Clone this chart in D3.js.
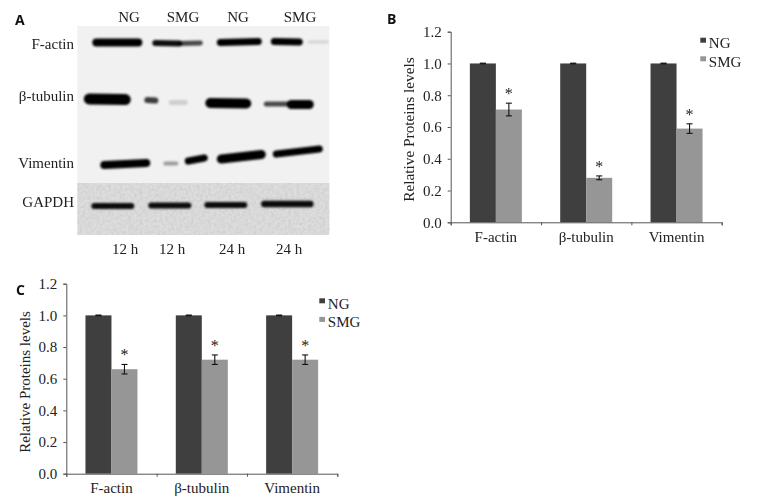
<!DOCTYPE html>
<html>
<head>
<meta charset="utf-8">
<script src="https://cdn.jsdelivr.net/npm/d3@7"></script>
<style>
  body { margin: 0; background: #fff; }
  text { font-family: "Liberation Serif", serif; fill: #222; }
  .letter { font-family: "Open Sans", sans-serif; font-weight: 700; font-size: 14px; fill: #111; }
</style>
</head>
<body>
<div id="figure"></div>
<script>
const proteins = ['F-actin', 'β-tubulin', 'Vimentin'];
const groups = ['NG', 'SMG'];
const yTicks = [0, 0.2, 0.4, 0.6, 0.8, 1.0, 1.2];

// panel B, 12 h
const ngB = [1, 1, 1];
const smgB = [0.71, 0.28, 0.59];
const ngErrB = [0.002, 0.002, 0.002];
const smgErrB = [0.04, 0.012, 0.03];

// panel C, 24 h
const ngC = [1, 1, 1];
const smgC = [0.66, 0.72, 0.72];
const ngErrC = [0.002, 0.002, 0.002];
const smgErrC = [0.03, 0.03, 0.03];

// blot bands: x0, x1, yLeft, yRight, thickness, density
const bandsActin = [
  [19, 61, 16.5, 16.5, 8, 1], [78, 102, 17, 17.5, 6, 0.95], [102, 123, 17.5, 17, 5, 0.7],
  [143, 181, 16.5, 15.5, 7, 1], [197, 222, 15.5, 16, 7, 1], [232, 250, 16, 16, 3, 0.12]
];
const bandsTubulin = [
  [12, 48, 73, 73.5, 11, 1], [70, 78, 74, 74.5, 6, 0.75], [94, 108, 76.5, 76.5, 5, 0.14],
  [133, 169, 77, 77.5, 10, 1], [189, 210, 78, 78, 5, 0.7], [214, 232, 78.5, 78.5, 9, 1]
];
const bandsVimentin = [
  [27, 69, 139, 137, 8, 1], [88, 99, 137.5, 137.5, 4, 0.35], [111, 127, 135, 132, 7, 1],
  [144, 184, 133, 128.5, 9, 1], [199, 242, 128, 123, 7, 1]
];
const bandsGapdh = [
  [17, 54, 180, 180, 6, 0.95], [74, 111, 179.5, 179.5, 6, 0.95],
  [130, 167, 179, 179, 6, 0.95], [187, 233, 178, 178, 6.5, 0.95]
];
const blotTop = ['NG', 'SMG', 'NG', 'SMG'];
const blotBottom = ['12 h', '12 h', '24 h', '24 h'];
const blotRows = ['F-actin', 'β-tubulin', 'Vimentin', 'GAPDH'];

const svg = d3.select('#figure').append('svg')
  .attr('width', 764)
  .attr('height', 502);

const defs = svg.append('defs');
defs.append('filter').attr('id', 'soft')
  .attr('filterUnits', 'userSpaceOnUse')
  .attr('x', 0).attr('y', 0).attr('width', 764).attr('height', 502)
  .append('feGaussianBlur').attr('stdDeviation', 1.2);

const grain = defs.append('filter').attr('id', 'grain')
  .attr('x', 0).attr('y', 0).attr('width', '100%').attr('height', '100%');
grain.append('feTurbulence').attr('type', 'fractalNoise').attr('baseFrequency', 0.35).attr('numOctaves', 2).attr('seed', 4);
grain.append('feColorMatrix').attr('type', 'matrix')
  .attr('values', '0 0 0 0 0  0 0 0 0 0  0 0 0 0 0  0.5 0 0 0 -0.17');

/**
 * drawBlot - the western blot of panel A, bands are blurred strokes on a grey film
 */
function drawBlot() {
  const gelX = d3.scaleLinear().domain([0, 252]).range([77.3, 329.3]);
  const gelY = d3.scaleLinear().domain([0, 209]).range([26, 235]);
  const split = 157;

  const gel = svg.append('g');
  gel.append('rect')
    .attr('x', gelX(0)).attr('y', gelY(0))
    .attr('width', gelX(252) - gelX(0)).attr('height', gelY(split) - gelY(0))
    .attr('fill', '#f1f1f1');
  gel.append('rect')
    .attr('x', gelX(0)).attr('y', gelY(split))
    .attr('width', gelX(252) - gelX(0)).attr('height', gelY(209) - gelY(split))
    .attr('fill', '#dddddd');
  gel.append('rect')
    .attr('x', gelX(0)).attr('y', gelY(split))
    .attr('width', gelX(252) - gelX(0)).attr('height', gelY(209) - gelY(split))
    .attr('fill', '#000')
    .attr('filter', 'url(#grain)')
    .attr('opacity', 0.25);

  const allBands = bandsActin.concat(bandsTubulin, bandsVimentin, bandsGapdh);
  gel.append('g')
    .attr('filter', 'url(#soft)')
    .selectAll('line.band')
    .data(allBands)
    .enter()
    .append('line')
    .classed('band', true)
    .attr('x1', d => gelX(d[0]))
    .attr('x2', d => gelX(d[1]))
    .attr('y1', d => gelY(d[2]))
    .attr('y2', d => gelY(d[3]))
    .attr('stroke', '#050505')
    .attr('stroke-linecap', 'round')
    .attr('stroke-width', d => d[4])
    .attr('opacity', d => d[5]);

  const topX = [129, 183, 238, 300];
  const bottomX = [125, 172, 232, 289];
  const rowY = [49, 101, 168, 207];

  svg.selectAll('text.lane-top').data(blotTop).enter().append('text')
    .classed('lane-top', true)
    .attr('x', (d, i) => topX[i]).attr('y', 22)
    .attr('text-anchor', 'middle').attr('font-size', 15).text(d => d);
  svg.selectAll('text.lane-bottom').data(blotBottom).enter().append('text')
    .classed('lane-bottom', true)
    .attr('x', (d, i) => bottomX[i]).attr('y', 254)
    .attr('text-anchor', 'middle').attr('font-size', 15).text(d => d);
  svg.selectAll('text.row-name').data(blotRows).enter().append('text')
    .classed('row-name', true)
    .attr('x', 74).attr('y', (d, i) => rowY[i])
    .attr('text-anchor', 'end').attr('font-size', 15).text(d => d);
}

/**
 * drawPanel - grouped bars with error bars, one panel
 *
 * @param {object} params frame of the panel in page pixels and the series to draw
 */
function drawPanel(params) {
  const {left, right, top, bottom, labelX, labelMid, labelSize, legendX, legendY, ng, smg, ngErr, smgErr} = params;
  const dark = '#3f3f3f';
  const grey = '#969696';

  const x = d3.scaleBand().domain(proteins).range([left, right]);
  const inner = d3.scaleBand().domain(groups).range([0, x.step()]).paddingInner(0).paddingOuter(0.737);
  const y = d3.scaleLinear().domain([0, 1.2]).range([bottom, top]);
  const edges = d3.scaleLinear().domain([0, 3]).range([left, right]);

  const rows = [];
  proteins.forEach((name, i) => {
    rows.push({name, group: 'NG', value: ng[i], err: ngErr[i], star: false});
    rows.push({name, group: 'SMG', value: smg[i], err: smgErr[i], star: true});
  });

  const chart = svg.append('g');

  chart.selectAll('rect.bar')
    .data(rows)
    .enter()
    .append('rect')
    .classed('bar', true)
    .attr('x', d => x(d.name) + inner(d.group))
    .attr('y', d => y(d.value))
    .attr('width', inner.bandwidth())
    .attr('height', d => y(0) - y(d.value))
    .attr('fill', d => d.group === 'NG' ? dark : grey);

  const capHalf = 3;
  const errs = chart.selectAll('g.err').data(rows).enter().append('g').classed('err', true)
    .attr('stroke', '#111').attr('stroke-width', 1.1);
  const errX = d => x(d.name) + inner(d.group) + inner.bandwidth() / 2;
  errs.append('line')
    .attr('x1', errX).attr('x2', errX)
    .attr('y1', d => y(d.value - d.err)).attr('y2', d => y(d.value + d.err));
  errs.append('line')
    .attr('x1', d => errX(d) - capHalf).attr('x2', d => errX(d) + capHalf)
    .attr('y1', d => y(d.value + d.err)).attr('y2', d => y(d.value + d.err));
  errs.append('line')
    .attr('x1', d => errX(d) - capHalf).attr('x2', d => errX(d) + capHalf)
    .attr('y1', d => y(d.value - d.err)).attr('y2', d => y(d.value - d.err));

  chart.selectAll('text.star')
    .data(rows.filter(d => d.star))
    .enter()
    .append('text')
    .classed('star', true)
    .attr('x', errX)
    .attr('y', d => y(d.value + d.err) - 4)
    .attr('text-anchor', 'middle')
    .attr('font-size', 16)
    .text('*');

  const yAxis = chart.append('g')
    .attr('transform', 'translate(' + left + ',0)')
    .call(d3.axisLeft(y).tickValues(yTicks).tickFormat(d3.format('.1f')).tickSize(3).tickPadding(6));
  const xEdges = chart.append('g')
    .attr('transform', 'translate(0,' + bottom + ')')
    .call(d3.axisBottom(edges).tickValues([0, 1, 2, 3]).tickFormat('').tickSize(3));
  const xAxis = chart.append('g')
    .attr('transform', 'translate(0,' + bottom + ')')
    .call(d3.axisBottom(x).tickSize(0).tickPadding(9));
  xAxis.select('.domain').remove();

  [yAxis, xEdges].forEach((axis) => {
    axis.selectAll('.domain').attr('stroke', '#555');
    axis.selectAll('.tick line').attr('stroke', '#555');
  });
  [yAxis, xAxis].forEach((axis) => {
    axis.selectAll('text')
      .style('font-family', '"Liberation Serif", serif')
      .style('font-size', '15px')
      .style('fill', '#222');
  });

  chart.append('text')
    .attr('transform', 'translate(' + labelX + ',' + labelMid + ') rotate(-90)')
    .attr('text-anchor', 'middle')
    .attr('font-size', labelSize)
    .text('Relative Proteins levels');

  const legend = chart.selectAll('g.legend')
    .data(groups)
    .enter()
    .append('g')
    .classed('legend', true)
    .attr('transform', (d, i) => 'translate(' + legendX + ',' + (legendY + i * 18.6) + ')');
  legend.append('rect')
    .attr('width', 5.7).attr('height', 5)
    .attr('fill', d => d === 'NG' ? dark : grey);
  legend.append('text')
    .attr('x', 8.5).attr('y', 10.3)
    .attr('font-size', 15)
    .text(d => d);
}

drawBlot();

drawPanel({
  left: 450.7, right: 721.7, top: 31.7, bottom: 222.3,
  labelX: 414, labelMid: 129.5, labelSize: 15.3, legendX: 700.3, legendY: 37.7,
  ng: ngB, smg: smgB, ngErr: ngErrB, smgErr: smgErrB
});

drawPanel({
  left: 66.3, right: 337.3, top: 283.7, bottom: 473.7,
  labelX: 30, labelMid: 382, labelSize: 15, legendX: 319.3, legendY: 298.3,
  ng: ngC, smg: smgC, ngErr: ngErrC, smgErr: smgErrC
});

const letters = ['A', 'B', 'C'];
const letterX = [15, 387, 16];
const letterY = [25, 24, 295];
svg.selectAll('text.letter').data(letters).enter().append('text')
  .classed('letter', true)
  .attr('x', (d, i) => letterX[i])
  .attr('y', (d, i) => letterY[i])
  .text(d => d);
</script>
</body>
</html>
